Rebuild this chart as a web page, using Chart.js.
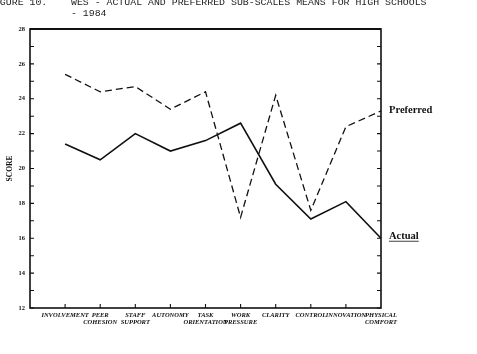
<!DOCTYPE html>
<html>
<head>
<meta charset="utf-8">
<script src="https://cdn.jsdelivr.net/npm/chart.js@4/dist/chart.umd.min.js"></script>
<style>
  html, body { margin: 0; padding: 0; background: #fff; width: 477px; height: 354px; overflow: hidden; }
  #wrap { position: relative; width: 477px; height: 354px; }
  #title { position: absolute; left: -12px; top: -3px; font: 9.9px "Liberation Mono", "DejaVu Sans Mono", monospace; line-height: 11px; color: #222; white-space: pre; }
  canvas { position: absolute; left: 0; top: 0; }
</style>
</head>
<body>
<div id="wrap">
  <canvas id="c" width="477" height="354"></canvas>
  <div id="title">FIGURE 10.    WES - ACTUAL AND PREFERRED SUB-SCALES MEANS FOR HIGH SCHOOLS
              - 1984</div>
</div>
<script>
// ---- data ----
const categories = [
  ['INVOLVEMENT'], ['PEER', 'COHESION'], ['STAFF', 'SUPPORT'], ['AUTONOMY'],
  ['TASK', 'ORIENTATION'], ['WORK', 'PRESSURE'], ['CLARITY'], ['CONTROL'],
  ['INNOVATION'], ['PHYSICAL', 'COMFORT']
];
const actual    = [21.4, 20.5, 22.0, 21.0, 21.6, 22.6, 19.1, 17.1, 18.1, 16.0];
const preferred = [25.4, 24.4, 24.7, 23.4, 24.4, 17.2, 24.2, 17.6, 22.4, 23.3];
const yTicks = [12, 14, 16, 18, 20, 22, 24, 26, 28];
const seriesNames = ['Actual', 'Preferred'];
const yTitle = 'SCORE';

// leading empty slot so the first category sits one step inside the left axis
const labels = [''].concat(categories);
const actualData = [null].concat(actual);
const preferredData = [null].concat(preferred);

const framePlugin = {
  id: 'frame',
  afterDraw(chart) {
    const ctx = chart.ctx;
    const { left, right, top, bottom } = chart.chartArea;
    const xs = chart.scales.x, ys = chart.scales.y;
    ctx.save();
    ctx.strokeStyle = '#111';
    ctx.lineWidth = 1.6;
    ctx.strokeRect(left, top, right - left, bottom - top);
    ctx.lineWidth = 2;
    ctx.beginPath(); ctx.moveTo(left, top); ctx.lineTo(right, top); ctx.stroke();
    ctx.lineWidth = 1.1;
    ctx.beginPath();
    for (let v = yTicks[0]; v <= yTicks[yTicks.length - 1]; v += 1) {
      const y = ys.getPixelForValue(v);
      ctx.moveTo(left, y); ctx.lineTo(left + 4, y);
      ctx.moveTo(right, y); ctx.lineTo(right - 4, y);
    }
    for (let i = 1; i < labels.length - 1; i++) {
      const x = xs.getPixelForValue(i);
      ctx.moveTo(x, bottom); ctx.lineTo(x, bottom - 4);
    }
    ctx.stroke();
    // end labels
    ctx.fillStyle = '#111';
    ctx.font = 'bold 10.5px "Liberation Serif", serif';
    ctx.textBaseline = 'middle';
    ctx.textAlign = 'left';
    const last = labels.length - 1;
    const xp = xs.getPixelForValue(last) + 8;
    const yPref = ys.getPixelForValue(preferred[preferred.length - 1]);
    const yAct = ys.getPixelForValue(actual[actual.length - 1]);
    ctx.fillText(seriesNames[1], xp, yPref - 1);
    ctx.fillText(seriesNames[0], xp, yAct - 2);
    const w = ctx.measureText(seriesNames[0]).width;
    ctx.lineWidth = 0.8;
    ctx.beginPath();
    ctx.moveTo(xp, yAct + 3); ctx.lineTo(xp + w, yAct + 3);
    ctx.stroke();
    ctx.restore();
  }
};

new Chart(document.getElementById('c'), {
  type: 'line',
  data: {
    labels: labels,
    datasets: [
      { label: seriesNames[1], data: preferredData, borderColor: '#111', borderWidth: 1.3,
        borderDash: [7, 4], pointRadius: 0, tension: 0, fill: false },
      { label: seriesNames[0], data: actualData, borderColor: '#111', borderWidth: 1.6,
        pointRadius: 0, tension: 0, fill: false }
    ]
  },
  options: {
    responsive: false,
    animation: false,
    devicePixelRatio: 1,
    layout: { padding: { top: 29, right: 96, left: 0, bottom: 0 } },
    plugins: { legend: { display: false }, tooltip: { enabled: false } },
    scales: {
      x: {
        type: 'category',
        offset: false,
        grid: { display: false, drawTicks: false },
        border: { display: false },
        ticks: {
          autoSkip: false, maxRotation: 0, minRotation: 0, padding: 4,
          color: '#111', font: { family: '"Liberation Serif", serif', style: 'italic', weight: 'bold', size: 6.5, lineHeight: 1.05 }
        },
        afterFit(s) { s.height = 46; }
      },
      y: {
        min: 12, max: 28,
        grid: { display: false, drawTicks: false },
        border: { display: false },
        afterBuildTicks(s) { s.ticks = yTicks.map(v => ({ value: v })); },
        ticks: {
          padding: 5, color: '#111',
          font: { family: '"Liberation Serif", serif', weight: 'bold', size: 6.5 }
        },
        title: {
          display: true, text: yTitle, color: '#111', padding: { top: 6, bottom: 0 },
          font: { family: '"Liberation Serif", serif', weight: 'bold', size: 7.5 }
        },
        afterFit(s) { s.width = 30; }
      }
    }
  },
  plugins: [framePlugin]
});
</script>
</body>
</html>
